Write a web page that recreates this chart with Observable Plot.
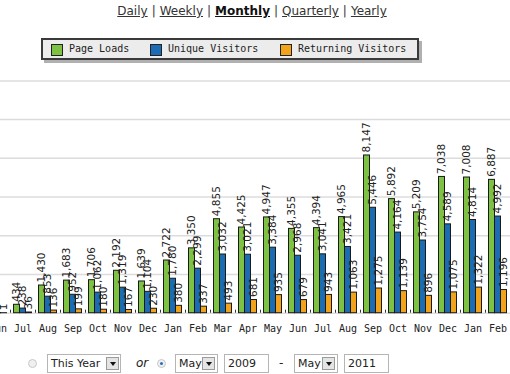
<!DOCTYPE html>
<html><head><meta charset="utf-8">
<script src="https://cdn.jsdelivr.net/npm/d3@7"></script>
<script src="https://cdn.jsdelivr.net/npm/@observablehq/plot@0.6"></script>
<style>
html,body{margin:0;padding:0;width:510px;height:374px;overflow:hidden;background:#fff;}
#wrap{position:relative;width:510px;height:374px;overflow:hidden;}
#chart{position:absolute;left:0;top:0;}
#nav{position:absolute;top:1px;left:0;width:504px;text-align:center;font:12px "DejaVu Sans";color:#333;line-height:20px;white-space:nowrap;}
#nav span.l{text-decoration:underline;}
#nav span.b{font-weight:bold;text-decoration:underline;color:#111;}
#nav span.sep{margin:0 4px;}
#legend{position:absolute;left:41px;top:38px;width:374px;height:18px;border:2px solid #3a3a3a;background:#ececec;box-shadow:3px 3px 0 #b0b0b0;}
.sw{position:absolute;top:4px;width:10px;height:10px;border:1px solid #222;}
.lt{position:absolute;top:1px;font:10px "DejaVu Sans Mono";color:#222;line-height:16px;white-space:nowrap;}
.ctl{position:absolute;font:12px "DejaVu Sans";color:#222;white-space:nowrap;}
.box{position:absolute;top:354px;height:17px;border:1px solid #b5b5b5;background:#fff;}
.box .t{position:absolute;left:3px;top:0;font:11px "DejaVu Sans";color:#222;line-height:17px;}
.arrow{position:absolute;top:2px;width:11px;height:11px;border:1px solid #9a9a9a;background:#e4e4e4;}
.arrow:after{content:"";position:absolute;left:3px;top:4px;border-left:3px solid transparent;border-right:3px solid transparent;border-top:4px solid #111;}
.radio{position:absolute;top:359px;width:7px;height:7px;border-radius:50%;border:1px solid #c8c8c8;background:#f0f0f0;}
.radio.on:after{content:"";position:absolute;left:2px;top:2px;width:3px;height:3px;border-radius:50%;background:#2a6bc0;}
</style>
</head><body>
<div id="wrap">
<div id="chart"></div>
<div id="nav"><span class="l">Daily</span><span class="sep">|</span><span class="l">Weekly</span><span class="sep">|</span><span class="b">Monthly</span><span class="sep">|</span><span class="l">Quarterly</span><span class="sep">|</span><span class="l">Yearly</span></div>
<div id="legend"></div>
<div class="radio" style="left:28px"></div>
<div class="box" style="left:47px;width:72px"><span class="t">This Year</span><div class="arrow" style="left:58px"></div></div>
<div class="ctl" style="left:136px;top:355px;font-style:italic;line-height:16px">or</div>
<div class="radio on" style="left:157px"></div>
<div class="box" style="left:175px;width:41px"><span class="t">May</span><div class="arrow" style="left:26px"></div></div>
<div class="box" style="left:224px;width:43px"><span class="t">2009</span></div>
<div class="ctl" style="left:279px;top:355px;line-height:16px">-</div>
<div class="box" style="left:294px;width:42px"><span class="t">May</span><div class="arrow" style="left:27px"></div></div>
<div class="box" style="left:344px;width:43px"><span class="t">2011</span></div>
</div>
<script>
const months = ["2009-06","2009-07","2009-08","2009-09","2009-10","2009-11","2009-12","2010-01","2010-02","2010-03","2010-04","2010-05","2010-06","2010-07","2010-08","2010-09","2010-10","2010-11","2010-12","2011-01","2011-02"];
const monthLabels = ["Jun","Jul","Aug","Sep","Oct","Nov","Dec","Jan","Feb","Mar","Apr","May","Jun","Jul","Aug","Sep","Oct","Nov","Dec","Jan","Feb"];
const pageLoads = [14, 434, 1430, 1683, 1706, 2192, 1639, 2722, 3350, 4855, 4425, 4947, 4355, 4394, 4965, 8147, 5892, 5209, 7038, 7008, 6887];
const uniqueVisitors = [5, 238, 853, 952, 1062, 1319, 1104, 1780, 2299, 3032, 3021, 3384, 2968, 3041, 3421, 5446, 4164, 3754, 4589, 4814, 4992];
const returningVisitors = [1, 36, 136, 199, 180, 167, 230, 380, 337, 493, 681, 935, 679, 943, 1063, 1275, 1139, 896, 1075, 1322, 1196];
const seriesNames = ["Page Loads", "Unique Visitors", "Returning Visitors"];
const seriesColors = ["#7dc242", "#1b6cb2", "#f2a31c"];
const gridValues = [2000, 4000, 6000, 8000, 10000, 12000];

const seriesValues = [pageLoads, uniqueVisitors, returningVisitors];
const rows = seriesValues.map((vals, s) => months.map((m, i) => ({month: m, s, value: vals[i]})));
const insets = [[3.5, 15.5], [9.5, 9.5], [15.5, 3.5]];
const labelShift = [-6, 0, 6];
const fmt = d3.format(",");

const plot = Plot.plot({
  width: 510,
  height: 374,
  marginTop: 41.66, marginBottom: 61.3, marginLeft: 0, marginRight: 0,
  style: {fontFamily: "DejaVu Sans Mono", fontSize: "10px", color: "#222", background: "transparent", overflow: "hidden"},
  x: {domain: months, range: [-15.5, 509.5], padding: 0, tickSize: 0, tickPadding: 12,
      tickFormat: d => monthLabels[months.indexOf(d)], label: null},
  y: {domain: [0, 14000], axis: null},
  marks: [
    Plot.ruleY(gridValues, {stroke: "#dcdcdc", strokeWidth: 1.5}),
    Plot.ruleY([0], {stroke: "#cfcfcf"}),
    Plot.ruleX(months, {x: d => d, y1: 0, y2: 0, insetTop: -3, dx: 12.5, stroke: "#333"}),
    ...rows.map((r, s) => Plot.barY(r, {x: "month", y: "value", fill: seriesColors[s], stroke: "#1a1a1a", strokeWidth: 1,
        insetLeft: insets[s][0], insetRight: insets[s][1]})),
    ...rows.map((r, s) => Plot.text(r, {x: "month", y: "value", text: d => fmt(d.value), rotate: -90, textAnchor: "start",
        dx: labelShift[s], dy: -3, fontFamily: "DejaVu Sans", fontSize: 10.5, fill: "#222"}))
  ]
});
document.getElementById("chart").appendChild(plot);

const legend = document.getElementById("legend");
const swX = [8, 107, 237];
const txX = [26, 125, 255];
seriesNames.forEach((n, i) => {
  const sw = document.createElement("div");
  sw.className = "sw"; sw.style.left = swX[i] + "px"; sw.style.background = seriesColors[i];
  legend.appendChild(sw);
  const t = document.createElement("div");
  t.className = "lt"; t.style.left = txX[i] + "px"; t.textContent = n;
  legend.appendChild(t);
});
</script>
</body></html>
